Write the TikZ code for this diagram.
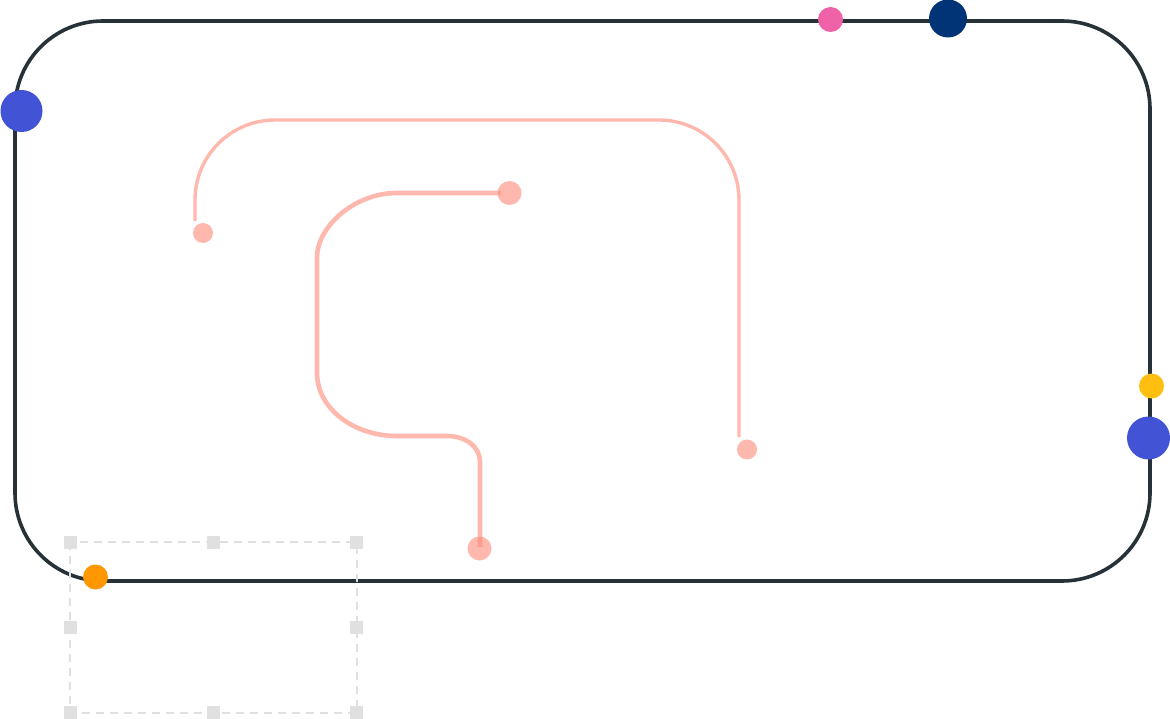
\documentclass[tikz,border=0pt]{standalone}
\begin{document}
\begin{tikzpicture}[x=1pt,y=-1pt,
  frame/.style={draw=framec,line width=3.6pt},
  pinkline/.style={draw=salmonc,opacity=0.6,line width=3.4pt},
  pinkline2/.style={draw=salmonc,opacity=0.6,line width=4.6pt},
  pinkdot/.style={circle,fill=salmonc,opacity=0.6,inner sep=0pt,minimum size=#1},
  dot/.style={circle,fill=#1,inner sep=0pt},
  selbox/.style={draw=selc,line width=2pt,dash pattern=on 8pt off 6pt},
  handle/.style={rectangle,fill=selc,inner sep=0pt,minimum size=13pt}
]
\definecolor{framec}{RGB}{38,50,56}
\definecolor{salmonc}{RGB}{255,138,120}
\definecolor{selc}{RGB}{224,224,224}
\definecolor{bluec}{RGB}{67,83,214}
\definecolor{navyc}{RGB}{1,52,118}
\definecolor{pinkc}{RGB}{240,98,168}
\definecolor{yellowc}{RGB}{255,191,16}
\definecolor{orangec}{RGB}{255,152,0}
\useasboundingbox (0,0) rectangle (1170,719);
\fill[white] (0,0) rectangle (1170,719);

% outer frame
\draw[frame,rounded corners=88pt] (15,21) rectangle (1150,581);

% pink dots
\node[pinkdot=20pt] (p1s) at (203,233) {};
\node[pinkdot=20pt] (p1e) at (747,449.5) {};
\node[pinkdot=24pt] (p2s) at (509.5,193) {};
\node[pinkdot=24pt] (p2e) at (479.5,548.5) {};

% pink path 1
\coordinate (a1) at (195,221);
\coordinate (a2) at (739,437);
\draw[pinkline,rounded corners=80pt] (a1) -- (195,120) -- (739,120) -- (a2);

% pink path 2
\draw[pinkline2] (p2s.center) ++(-9,0) -- (397,193)
  .. controls (353,193) and (317,228) .. (317,257)
  -- (317,373)
  .. controls (317,408) and (353,436) .. (397,436)
  -- (447,436)
  .. controls (466,436) and (480,447) .. (480,462)
  -- (480,547);

% selection box
\draw[selbox] (70,542) rectangle (356.5,712.5);
\foreach \hx/\hy [count=\i] in {70/542,213/542,356.5/542,70/627,356.5/627,70/712.5,213/712.5,356.5/712.5}
  \node[handle] (h\i) at (\hx,\hy) {};

% frame dots
\node[dot=bluec,minimum size=42pt] (b1) at (21.5,111) {};
\node[dot=pinkc,minimum size=25pt] (pk) at (830.5,19.5) {};
\node[dot=navyc,minimum size=38pt] (nv) at (948,18.5) {};
\node[dot=yellowc,minimum size=25pt] (yl) at (1151.5,386) {};
\node[dot=bluec,minimum size=43pt] (b2) at (1148.5,438) {};
\node[dot=orangec,minimum size=25pt] (or) at (95.5,577) {};
\end{tikzpicture}
\end{document}
